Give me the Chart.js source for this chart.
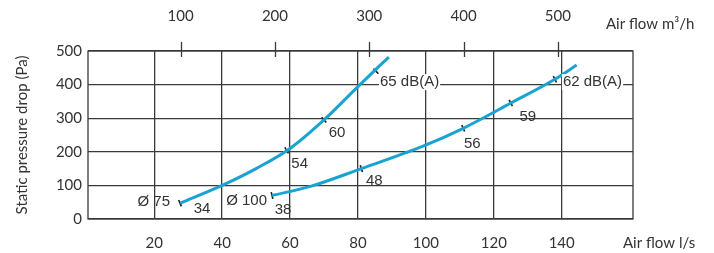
<!DOCTYPE html>
<html>
<head>
<meta charset="utf-8">
<script src="https://cdn.jsdelivr.net/npm/chart.js@4.4.1/dist/chart.umd.min.js"></script>
<style>
  html, body { margin:0; padding:0; background:#fff; }
  #wrap { width:714px; height:253px; }
</style>
</head>
<body>
<div id="wrap"><canvas id="c" width="714" height="253"></canvas></div>
<script>
    // axis ticks
    const X_TICKS = [20, 40, 60, 80, 100, 120, 140];          // l/s
    const X2_TICKS = [100, 200, 300, 400, 500];               // m3/h
    const Y_TICKS = [0, 100, 200, 300, 400, 500];             // Pa

    // curves (x = l/s, y = Pa)
    const D75_X = [27.6, 40, 50, 60, 70, 80.6, 89.1];
    const D75_Y = [47, 100, 150, 210, 295, 400, 482];
    const D100_X = [54.7, 66, 81, 99, 111, 125, 138, 144.4];
    const D100_Y = [70, 97, 150, 216, 270, 345, 416, 458];

    // noise marks on curves
    const M75_X = [27.6, 59, 70, 85.3];
    const M75_Y = [47, 204, 295, 440];
    const M75_LBL = ['34', '54', '60', '65 dB(A)'];
    const M100_X = [54.7, 81, 111, 125, 138];
    const M100_Y = [70, 150, 270, 345, 416];
    const M100_LBL = ['38', '48', '56', '59', '62 dB(A)'];
    const CURVE_NAMES = ['Ø 75', 'Ø 100'];

    const X_TITLE = 'Air flow l/s';
    const X2_TITLE = 'Air flow m³/h';
    const Y_TITLE = 'Static pressure drop (Pa)';
    const LS_TO_M3H = 3.6;

    // label placement relative to the mark (style only)
    const LBL75_STY = [{dx:22,dy:6,al:'center'},{dx:13,dy:13,al:'center'},{dx:13,dy:13,al:'center'},{dx:4,dy:11,al:'left',bg:true}];
    const LBL100_STY = [{dx:11,dy:14,al:'center'},{dx:13,dy:12,al:'center'},{dx:9,dy:16,al:'center'},{dx:17,dy:14,al:'center'},{dx:8,dy:3,al:'left',bg:true}];
    const NAME_STY = [{dx:-10,dy:-1},{dx:-5,dy:5}];

    const GRID = '#3a3a3a';
    const TXT = '#333333';
    const CURVE = '#19a3d1';
    const AX_FONT = { family:'Lato', size:15 };
    const ANN_FONT = "15px 'Liberation Sans', Arial, sans-serif";

    const pts = (xs, ys) => xs.map((x, i) => ({ x: x, y: ys[i] }));

    function perpAngle(chart, xs, ys, x) {
        const sx = chart.scales.x, sy = chart.scales.y;
        if (!sx || !sy) return 90;
        let i = 0;
        while (i < xs.length - 2 && xs[i+1] < x) i++;
        const dx = sx.getPixelForValue(xs[i+1]) - sx.getPixelForValue(xs[i]);
        const dy = sy.getPixelForValue(ys[i+1]) - sy.getPixelForValue(ys[i]);
        return Math.atan2(dy, dx) * 180 / Math.PI + 90;
    }

    const extras = {
        id: 'extras',
        afterDatasetsDraw(chart) {
            const ctx = chart.ctx, sx = chart.scales.x, sy = chart.scales.y;
            ctx.save();
            ctx.font = ANN_FONT;
            ctx.textBaseline = 'middle';
            const put = (txt, px, py, al, bg) => {
                ctx.textAlign = al;
                if (bg) {
                    const w = ctx.measureText(txt).width;
                    const l = al === 'left' ? px : al === 'right' ? px - w : px - w/2;
                    ctx.fillStyle = '#fff';
                    ctx.fillRect(l - 1, py - 8, w + 2, 16);
                }
                ctx.fillStyle = TXT;
                ctx.fillText(txt, px, py);
            };
            [[M75_X, M75_Y, M75_LBL, LBL75_STY], [M100_X, M100_Y, M100_LBL, LBL100_STY]].forEach((g, k) => {
                g[0].forEach((x, i) => {
                    const px = sx.getPixelForValue(x), py = sy.getPixelForValue(g[1][i]);
                    const s = g[3][i];
                    put(g[2][i], px + s.dx, py + s.dy, s.al, s.bg);
                });
                const px0 = sx.getPixelForValue(g[0][0]), py0 = sy.getPixelForValue(g[1][0]);
                put(CURVE_NAMES[k], px0 + NAME_STY[k].dx, py0 + NAME_STY[k].dy, 'right', false);
            });
            ctx.restore();
        },
        afterDraw(chart) {
            const ctx = chart.ctx, a = chart.chartArea, st = chart.scales.x2;
            ctx.save();
            ctx.strokeStyle = GRID; ctx.lineWidth = 1.3;
            ctx.strokeRect(a.left, a.top, a.right - a.left, a.bottom - a.top);
            X2_TICKS.forEach(v => {
                const px = Math.round(st.getPixelForValue(v)) + 0.5;
                ctx.beginPath(); ctx.moveTo(px, a.top - 9); ctx.lineTo(px, a.top + 6); ctx.stroke();
            });
            ctx.font = AX_FONT.size + 'px ' + AX_FONT.family;
            ctx.fillStyle = TXT; ctx.textBaseline = 'middle'; ctx.textAlign = 'left';
            ctx.fillText(X2_TITLE, a.right - 27, a.top - 27);
            ctx.fillText(X_TITLE, a.right - 10, a.bottom + 24);
            ctx.restore();
        }
    };

    function setup() {
        const curveOpts = { type:'line', borderColor:CURVE, borderWidth:3, pointRadius:0, fill:false, showLine:true, cubicInterpolationMode:'monotone' };
        const markOpts = { type:'scatter', pointStyle:'line', pointRadius:3.5, borderColor:'#1a1a1a', pointBorderWidth:1.6, borderWidth:1.6 };

        new Chart(document.getElementById('c').getContext('2d'), {
            type:'scatter',
            data: { datasets: [
                { ...curveOpts, label:CURVE_NAMES[0], data:pts(D75_X, D75_Y) },
                { ...curveOpts, label:CURVE_NAMES[1], data:pts(D100_X, D100_Y) },
                { ...markOpts, data:pts(M75_X, M75_Y), rotation: c => c.raw ? perpAngle(c.chart, D75_X, D75_Y, c.raw.x) : 90 },
                { ...markOpts, data:pts(M100_X, M100_Y), rotation: c => c.raw ? perpAngle(c.chart, D100_X, D100_Y, c.raw.x) : 90 }
            ] },
            options: {
                responsive:false, animation:false,
                layout:{ padding:{ left:0, right:81, top:0, bottom:0 } },
                plugins:{ legend:{display:false}, tooltip:{enabled:false} },
                scales:{
                    x:{ type:'linear', position:'bottom', min:0.5, max:161,
                        afterBuildTicks: s => { s.ticks = X_TICKS.map(v => ({value:v})); },
                        afterFit: s => { s.height = 34; },
                        grid:{ color:GRID, lineWidth:1.3, drawTicks:false },
                        border:{ display:false },
                        ticks:{ padding:15, font:AX_FONT, color:TXT, maxRotation:0 } },
                    x2:{ type:'linear', position:'top', min:0.5*LS_TO_M3H, max:161*LS_TO_M3H,
                        afterBuildTicks: s => { s.ticks = X2_TICKS.map(v => ({value:v})); },
                        afterFit: s => { s.height = 51; },
                        grid:{ display:false },
                        border:{ display:false },
                        ticks:{ padding:18, font:AX_FONT, color:TXT, maxRotation:0 } },
                    y:{ type:'linear', min:0, max:500,
                        afterBuildTicks: s => { s.ticks = Y_TICKS.map(v => ({value:v})); },
                        afterFit: s => { s.width = 88; },
                        grid:{ color:GRID, lineWidth:1.3, drawTicks:false },
                        border:{ display:false },
                        ticks:{ padding:6, font:AX_FONT, color:TXT },
                        title:{ display:true, text:Y_TITLE, font:{ family:'Lato', size:15 }, color:TXT, padding:{ top:13, bottom:0 } } }
                }
            },
            plugins:[extras]
        });
    }

    document.addEventListener("DOMContentLoaded", setup);
</script>
</body>
</html>
